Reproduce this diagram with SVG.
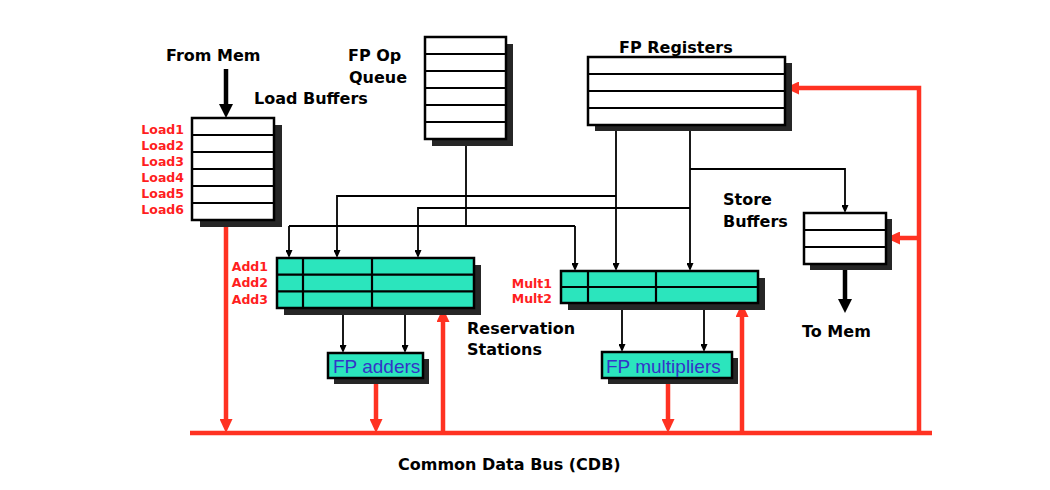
<svg xmlns="http://www.w3.org/2000/svg" width="1050" height="490" viewBox="0 0 1050 490">
<style>
.bg{fill:#ffffff}
.sh{fill:#262626}
.box{fill:#ffffff;stroke:#000;stroke-width:2.5}
.rs{fill:#2BE5BD;stroke:#000;stroke-width:2.5}
.div{stroke:#000;stroke-width:2.2;fill:none}
.lbl{font-family:"DejaVu Sans",sans-serif;font-weight:bold;font-size:16px;fill:#000}
.red{font-family:"DejaVu Sans",sans-serif;font-weight:bold;font-size:12.5px;fill:#FF1E1E;text-anchor:end}
.fu{font-family:"Liberation Sans",Arial,sans-serif;font-size:19px;fill:#3434C8}
.wire{stroke:#000;stroke-width:1.8;fill:none}
.bus{stroke:#FF3222;stroke-width:4.5;fill:none}
.thick{stroke:#000;stroke-width:4.5;fill:none}
</style>
<defs>
<marker id="ab" viewBox="0 0 8 7" refX="6" refY="3.5" markerWidth="8" markerHeight="7" markerUnits="userSpaceOnUse" orient="auto">
<path d="M0,0 L8,3.5 L0,7 z" fill="#000"/>
</marker>
<marker id="ar" viewBox="0 0 14 13" refX="8" refY="6.5" markerWidth="14" markerHeight="13" markerUnits="userSpaceOnUse" orient="auto">
<path d="M0,0 L14,6.5 L0,13 z" fill="#FF3222"/>
</marker>
<marker id="ak" viewBox="0 0 14 14" refX="8" refY="7" markerWidth="14" markerHeight="14" markerUnits="userSpaceOnUse" orient="auto">
<path d="M0,0 L14,7 L0,14 z" fill="#000"/>
</marker>
</defs>
<rect class="bg" x="0" y="0" width="1050" height="490"/>

<g id="connectors">
<polyline class="wire" points="466,139 466,226"/>
<polyline class="wire" points="289,226 575,226"/>
<polyline class="wire" points="289,226 289,256" marker-end="url(#ab)"/>
<polyline class="wire" points="575,226 575,269" marker-end="url(#ab)"/>
<polyline class="wire" points="616,125 616,269" marker-end="url(#ab)"/>
<polyline class="wire" points="616,196 337,196 337,256" marker-end="url(#ab)"/>
<polyline class="wire" points="690,125 690,269" marker-end="url(#ab)"/>
<polyline class="wire" points="690,208 418,208 418,256" marker-end="url(#ab)"/>
<polyline class="wire" points="690,169 845,169 845,211" marker-end="url(#ab)"/>
<polyline class="wire" points="343,308 343,351" marker-end="url(#ab)"/>
<polyline class="wire" points="405,308 405,351" marker-end="url(#ab)"/>
<polyline class="wire" points="622,303 622,350" marker-end="url(#ab)"/>
<polyline class="wire" points="704,303 704,350" marker-end="url(#ab)"/>
<polyline class="thick" points="226,69 226,112" marker-end="url(#ak)"/>
<polyline class="thick" points="845,264 845,307" marker-end="url(#ak)"/>
<polyline class="bus" points="190,433 932,433"/>
<polyline class="bus" points="226,220 226,427" marker-end="url(#ar)"/>
<polyline class="bus" points="376,378 376,427" marker-end="url(#ar)"/>
<polyline class="bus" points="443,433 443,314" marker-end="url(#ar)"/>
<polyline class="bus" points="668,378 668,427" marker-end="url(#ar)"/>
<polyline class="bus" points="742,433 742,309" marker-end="url(#ar)"/>
<polyline class="bus" points="919,433 919,88 791,88" marker-end="url(#ar)"/>
<polyline class="bus" points="919,238 892,238" marker-end="url(#ar)"/>
</g>

<g id="load-buffers">
<rect class="sh" x="200" y="125" width="82" height="102"/>
<rect class="box" x="192" y="118" width="82" height="102"/>
<path class="div" d="M192,135H274M192,152H274M192,169H274M192,186H274M192,203H274"/>
<text class="red" x="184" y="134">Load1</text>
<text class="red" x="184" y="150">Load2</text>
<text class="red" x="184" y="166">Load3</text>
<text class="red" x="184" y="182">Load4</text>
<text class="red" x="184" y="198">Load5</text>
<text class="red" x="184" y="214">Load6</text>
</g>

<g id="fp-op-queue">
<rect class="sh" x="432" y="44" width="81" height="102"/>
<rect class="box" x="425" y="37" width="81" height="102"/>
<path class="div" d="M425,54H506M425,71H506M425,88H506M425,105H506M425,122H506"/>
</g>

<g id="fp-registers">
<rect class="sh" x="595" y="63" width="197" height="68"/>
<rect class="box" x="588" y="57" width="197" height="68"/>
<path class="div" d="M588,74H785M588,91H785M588,108H785"/>
</g>

<g id="add-rs">
<rect class="sh" x="284" y="265" width="197" height="50"/>
<rect class="rs" x="277" y="258" width="197" height="50"/>
<path class="div" d="M277,274.7H474M277,291.3H474M303,258V308M372,258V308"/>
<text class="red" x="268" y="271">Add1</text>
<text class="red" x="268" y="287">Add2</text>
<text class="red" x="268" y="304">Add3</text>
</g>

<g id="mult-rs">
<rect class="sh" x="568" y="278" width="197" height="32"/>
<rect class="rs" x="561" y="271" width="197" height="32"/>
<path class="div" d="M561,287H758M588,271V303M656,271V303"/>
<text class="red" x="552" y="288">Mult1</text>
<text class="red" x="552" y="303">Mult2</text>
</g>

<g id="store-buffers">
<rect class="sh" x="810" y="219" width="82" height="51"/>
<rect class="box" x="804" y="213" width="82" height="51"/>
<path class="div" d="M804,230H886M804,247H886"/>
</g>

<g id="fp-adders">
<rect class="sh" x="334" y="359" width="95" height="25"/>
<rect class="rs" x="328" y="353" width="95" height="25"/>
<text class="fu" x="333" y="372.5">FP adders</text>
</g>

<g id="fp-multipliers">
<rect class="sh" x="608" y="358" width="130" height="26"/>
<rect class="rs" x="602" y="352" width="130" height="26"/>
<text class="fu" x="606" y="372.5">FP multipliers</text>
</g>

<g id="labels">
<text class="lbl" x="166" y="61">From Mem</text>
<text class="lbl" x="348" y="61">FP Op</text>
<text class="lbl" x="349" y="83">Queue</text>
<text class="lbl" x="254" y="104">Load Buffers</text>
<text class="lbl" x="619" y="53">FP Registers</text>
<text class="lbl" x="723" y="205">Store</text>
<text class="lbl" x="723" y="227">Buffers</text>
<text class="lbl" x="802" y="337">To Mem</text>
<text class="lbl" x="467" y="334">Reservation</text>
<text class="lbl" x="467" y="355">Stations</text>
<text class="lbl" x="398" y="470">Common Data Bus (CDB)</text>
</g>
</svg>
